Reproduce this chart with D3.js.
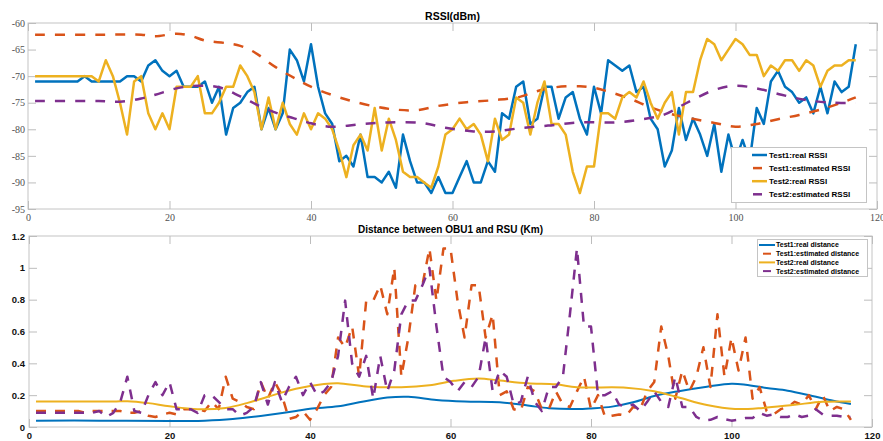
<!DOCTYPE html>
<html>
<head>
<meta charset="utf-8">
<script src="https://cdn.jsdelivr.net/npm/d3@7"></script>
<style>
  body { margin: 0; background: #fff; }
  .serif text { font-family: "Liberation Serif", "DejaVu Serif", serif; font-size: 10px; fill: #505050; }
  .bold text { font-family: "Liberation Sans", Arial, sans-serif; font-size: 9.5px; font-weight: bold; fill: #111; }
  .tick line { stroke: #bdbdbd; }
</style>
</head>
<body>
<div id="chart"></div>
<script>
// RSSI of every sample (index 1..117)
var rssiTest1Real = [-71,-71,-71,-71,-71,-71,-71,-70,-71,-71,-71,-71,-71,-70,-70,-71,-68,-67,-69,-70,
  -69,-72,-72,-72,-71,-75,-72,-81,-76,-75,-73,-72,-80,-76,-80,-77,-65,-67,-71,-64,
  -72,-77,-79,-86,-85,-87,-81,-89,-89,-90,-88,-91,-81,-86,-90,-90,-92,-89,-92,-92,
  -89,-86,-90,-90,-86,-88,-77,-78,-72,-71,-79,-78,-72,-72,-78,-74,-73,-78,-81,-72,
  -77,-67,-68,-69,-68,-73,-72,-78,-80,-87,-84,-76,-82,-78,-81,-85,-79,-88,-81,-86,
  -82,-86,-76,-79,-71,-69,-72,-73,-75,-74,-77,-72,-77,-71,-73,-72,-64];
var rssiTest2Real = [-70,-70,-70,-70,-70,-70,-70,-70,-70,-71,-67,-70,-75,-81,-71,-70,-77,-80,-77,-80,
  -72,-72,-72,-70,-77,-77,-75,-72,-72,-68,-70,-73,-80,-74,-80,-75,-79,-81,-77,-80,
  -77,-78,-80,-84,-89,-83,-81,-84,-76,-84,-78,-82,-88,-89,-89,-90,-91,-87,-81,-80,
  -78,-80,-79,-81,-86,-78,-82,-81,-74,-75,-81,-75,-71,-79,-79,-81,-88,-92,-87,-87,
  -77,-77,-78,-74,-73,-74,-71,-75,-78,-75,-73,-81,-73,-73,-67,-63,-64,-67,-65,-63,
  -64,-66,-66,-70,-68,-69,-67,-67,-69,-67,-68,-72,-69,-68,-68,-67,-67];

// estimated RSSI curves, read as [sample, dBm] points
var rssiTest1Est = [[1,-62.2],[10,-62.2],[16,-62.2],[18,-62.5],[21,-62.0],[23,-62.4],[25,-63.3],[28,-63.8],
  [30,-64.3],[32,-65.5],[35,-68.3],[38,-70.6],[40.5,-72.3],[45,-74.4],[49,-75.7],[52,-76.3],[55,-76.4],
  [58,-75.6],[62,-74.9],[66,-74.5],[69.5,-73.9],[71.5,-73],[74.5,-72.1],[78,-71.9],[80,-72.2],[82,-72.9],
  [85,-74.2],[87.5,-75.6],[90.5,-77],[93.5,-77.9],[97,-78.8],[100,-79.5],[103,-79.0],[106,-78.1],
  [109,-77.3],[112,-76.3],[115,-75],[117,-74]];
var rssiTest2Est = [[1,-74.7],[10,-74.7],[13,-74.8],[16,-74.2],[18,-73.5],[21,-72.3],[24,-71.8],[27,-72.1],
  [30,-73.8],[33,-75.8],[35.5,-77.1],[37.5,-77.9],[39.5,-78.7],[42.5,-79.5],[47.5,-79],[51,-78.7],
  [55.5,-78.8],[59,-79.7],[63,-80.4],[66,-80.4],[69.5,-79.8],[73.5,-79.3],[78,-78.7],[83,-78.7],
  [86.5,-78.2],[90,-77.2],[93,-75.1],[97,-72.6],[100,-71.8],[103,-72.3],[106.5,-73.5],[110,-74.5],
  [113.5,-75],[117,-75]];

// distance (Km)
var distTest1Real = [[1,0.04],[10,0.04],[20,0.037],[25,0.04],[29,0.05],[34,0.075],[38,0.1],[40,0.115],
  [44,0.13],[47,0.155],[51,0.185],[54,0.19],[58,0.17],[62,0.16],[67,0.155],[71,0.135],[74,0.118],
  [78,0.113],[80,0.117],[83,0.128],[86,0.155],[89,0.195],[92.5,0.225],[96.5,0.253],[100,0.272],
  [102,0.266],[105,0.245],[108,0.228],[111.5,0.195],[114.5,0.165],[117,0.145]];
var distTest2Real = [[1,0.16],[12,0.16],[14,0.162],[17,0.15],[20,0.13],[24,0.112],[28,0.12],[31,0.15],
  [34,0.19],[38,0.24],[42,0.27],[44,0.275],[48,0.255],[53,0.25],[57,0.262],[60.5,0.29],[64,0.305],
  [67,0.292],[71,0.275],[75,0.268],[78,0.25],[85,0.247],[89,0.225],[92.5,0.185],[96.5,0.138],
  [100.5,0.113],[104.5,0.12],[109,0.14],[113,0.158],[117,0.16]];
var distTest1Est = [0.10,0.10,0.10,0.10,0.10,0.10,0.10,0.089,0.10,0.10,0.10,0.10,0.10,0.089,0.089,0.10,0.071,0.063,0.079,0.089,
  0.079,0.112,0.112,0.112,0.10,0.158,0.112,0.316,0.178,0.158,0.126,0.112,0.282,0.178,0.282,0.20,0.05,0.063,0.10,0.045,
  0.112,0.20,0.251,0.562,0.501,0.631,0.316,0.794,0.794,0.891,0.708,1.0,0.316,0.562,0.891,0.891,1.122,0.794,1.122,1.122,
  0.794,0.562,0.891,0.891,0.562,0.708,0.20,0.224,0.112,0.10,0.251,0.224,0.112,0.112,0.224,0.141,0.126,0.224,0.316,0.112,
  0.20,0.063,0.071,0.079,0.071,0.126,0.112,0.224,0.282,0.631,0.447,0.178,0.355,0.224,0.316,0.501,0.251,0.708,0.316,0.562,
  0.355,0.562,0.178,0.251,0.10,0.079,0.112,0.126,0.158,0.141,0.20,0.112,0.20,0.10,0.126,0.112,0.045];
var distTest2Est = [0.089,0.089,0.089,0.089,0.089,0.089,0.089,0.089,0.089,0.10,0.063,0.089,0.158,0.316,0.10,0.089,0.20,0.282,0.20,0.282,
  0.112,0.112,0.112,0.089,0.20,0.20,0.158,0.112,0.112,0.071,0.089,0.126,0.282,0.141,0.282,0.158,0.251,0.316,0.20,0.282,
  0.20,0.224,0.282,0.447,0.794,0.398,0.316,0.447,0.178,0.447,0.224,0.355,0.708,0.794,0.794,0.891,1.0,0.631,0.316,0.282,
  0.224,0.282,0.251,0.316,0.562,0.224,0.355,0.316,0.141,0.158,0.316,0.158,0.10,0.251,0.251,0.316,0.708,1.122,0.631,0.631,
  0.20,0.20,0.224,0.141,0.126,0.141,0.10,0.158,0.224,0.158,0.126,0.316,0.126,0.126,0.063,0.040,0.045,0.063,0.050,0.040,
  0.045,0.056,0.056,0.089,0.071,0.079,0.063,0.063,0.079,0.063,0.071,0.112,0.079,0.071,0.071,0.063,0.063];

var xTicks = [0, 20, 40, 60, 80, 100, 120];
var rssiTicks = [-95, -90, -85, -80, -75, -70, -65, -60];
var distTicks = [0, 0.2, 0.4, 0.6, 0.8, 1, 1.2];
var rssiNames = ["Test1:real RSSI", "Test1:estimated RSSI", "Test2:real RSSI", "Test2:estimated RSSI"];
var distNames = ["Test1:real distance", "Test1:estimated distance", "Test2:real distance", "Test2:estimated distance"];

var colors = ["#0072bd", "#d95319", "#edb120", "#7e2f8e"];
var dashed = [false, true, false, true];

var svg = d3.select("#chart").append("svg")
  .attr("width", 883)
  .attr("height", 441);

// turn a plain array into [sample, value] pairs
function indexed(arr) { return arr.map((v, i) => [i + 1, v]); }

function drawPanel(opt) {
  var x = d3.scaleLinear().domain([0, 120]).range([opt.left, opt.right]);
  var y = d3.scaleLinear().domain(opt.yDomain).range([opt.bottom, opt.top]);
  var tk = 8;

  // frame
  svg.append("rect")
    .attr("x", opt.left).attr("y", opt.top)
    .attr("width", opt.right - opt.left).attr("height", opt.bottom - opt.top)
    .attr("fill", "none").attr("stroke", "#c4c4c4");

  var gb = svg.append("g").attr("class", opt.labelClass)
    .attr("transform", "translate(0," + opt.bottom + ")")
    .call(d3.axisBottom(x).tickValues(xTicks).tickSize(-tk).tickPadding(opt.xPad).tickFormat(d => String(d)));
  var gt = svg.append("g").attr("class", opt.labelClass)
    .attr("transform", "translate(0," + opt.top + ")")
    .call(d3.axisTop(x).tickValues(xTicks).tickSize(-tk).tickFormat(""));
  var gl = svg.append("g").attr("class", opt.labelClass)
    .attr("transform", "translate(" + opt.left + ",0)")
    .call(d3.axisLeft(y).tickValues(opt.yTicks).tickSize(-tk).tickPadding(opt.yPad).tickFormat(opt.yFormat));
  var gr = svg.append("g").attr("class", opt.labelClass)
    .attr("transform", "translate(" + opt.right + ",0)")
    .call(d3.axisRight(y).tickValues(opt.yTicks).tickSize(-tk).tickFormat(""));
  [gb, gt, gl, gr].forEach(g => g.select(".domain").remove());

  // series
  opt.series.forEach(function (s, i) {
    var line = d3.line().x(d => x(d[0])).y(d => y(d[1]));
    if (s.smooth) line.curve(d3.curveCatmullRom.alpha(0.5));
    svg.append("path")
      .datum(s.data)
      .attr("fill", "none")
      .attr("stroke", colors[i])
      .attr("stroke-width", dashed[i] ? opt.dashWidth : opt.lineWidth)
      .attr("stroke-linejoin", "round")
      .attr("stroke-dasharray", dashed[i] ? opt.dash : null)
      .attr("d", line);
  });

  // title
  svg.append("text")
    .attr("x", (opt.left + opt.right) / 2)
    .attr("y", opt.titleY)
    .attr("text-anchor", "middle")
    .style("font-family", "Liberation Sans, Arial, sans-serif")
    .style("font-weight", "bold")
    .style("font-size", opt.titleSize + "px")
    .text(opt.title);

  // legend
  var L = opt.legend;
  svg.append("rect")
    .attr("x", L.x).attr("y", L.y).attr("width", L.w).attr("height", L.h)
    .attr("fill", "#fff").attr("stroke", "#c4c4c4");
  opt.names.forEach(function (name, i) {
    var yy = L.y + L.first + i * L.step;
    svg.append("line")
      .attr("x1", dashed[i] ? L.dashX1 : L.lineX1)
      .attr("x2", dashed[i] ? L.dashX2 : L.lineX2)
      .attr("y1", yy).attr("y2", yy)
      .attr("stroke", colors[i])
      .attr("stroke-width", opt.lineWidth);
    svg.append("text")
      .attr("x", L.textX)
      .attr("y", yy)
      .attr("dy", "0.35em")
      .style("font-family", "Liberation Sans, Arial, sans-serif")
      .style("font-weight", "bold")
      .style("font-size", L.font + "px")
      .text(name);
  });
}

drawPanel({
  left: 28, right: 877, top: 23, bottom: 209,
  yDomain: [-95, -60], yTicks: rssiTicks, yFormat: d => String(d),
  labelClass: "serif", xPad: 5, yPad: 3,
  lineWidth: 2.5, dashWidth: 2.5, dash: "10,10",
  title: "RSSI(dBm)", titleY: 20, titleSize: 10.5,
  names: rssiNames,
  series: [
    {data: indexed(rssiTest1Real)},
    {data: rssiTest1Est, smooth: true},
    {data: indexed(rssiTest2Real)},
    {data: rssiTest2Est, smooth: true}
  ],
  legend: {x: 731.5, y: 147.5, w: 135, h: 55, first: 7.5, step: 13.1,
    lineX1: 752, lineX2: 767, dashX1: 753, dashX2: 762, textX: 769, font: 8}
});

drawPanel({
  left: 29, right: 872, top: 236, bottom: 427,
  yDomain: [0, 1.2], yTicks: distTicks, yFormat: d => String(+d.toFixed(1)),
  labelClass: "bold", xPad: 5, yPad: 4,
  lineWidth: 2, dashWidth: 2.5, dash: "10,9",
  title: "Distance between OBU1 and RSU (Km)", titleY: 233, titleSize: 10,
  names: distNames,
  series: [
    {data: distTest1Real, smooth: true},
    {data: indexed(distTest1Est)},
    {data: distTest2Real, smooth: true},
    {data: indexed(distTest2Est)}
  ],
  legend: {x: 757.5, y: 239.5, w: 110, h: 37, first: 5.5, step: 8.7,
    lineX1: 759, lineX2: 775, dashX1: 763, dashX2: 771, textX: 776, font: 7}
});
</script>
</body>
</html>
